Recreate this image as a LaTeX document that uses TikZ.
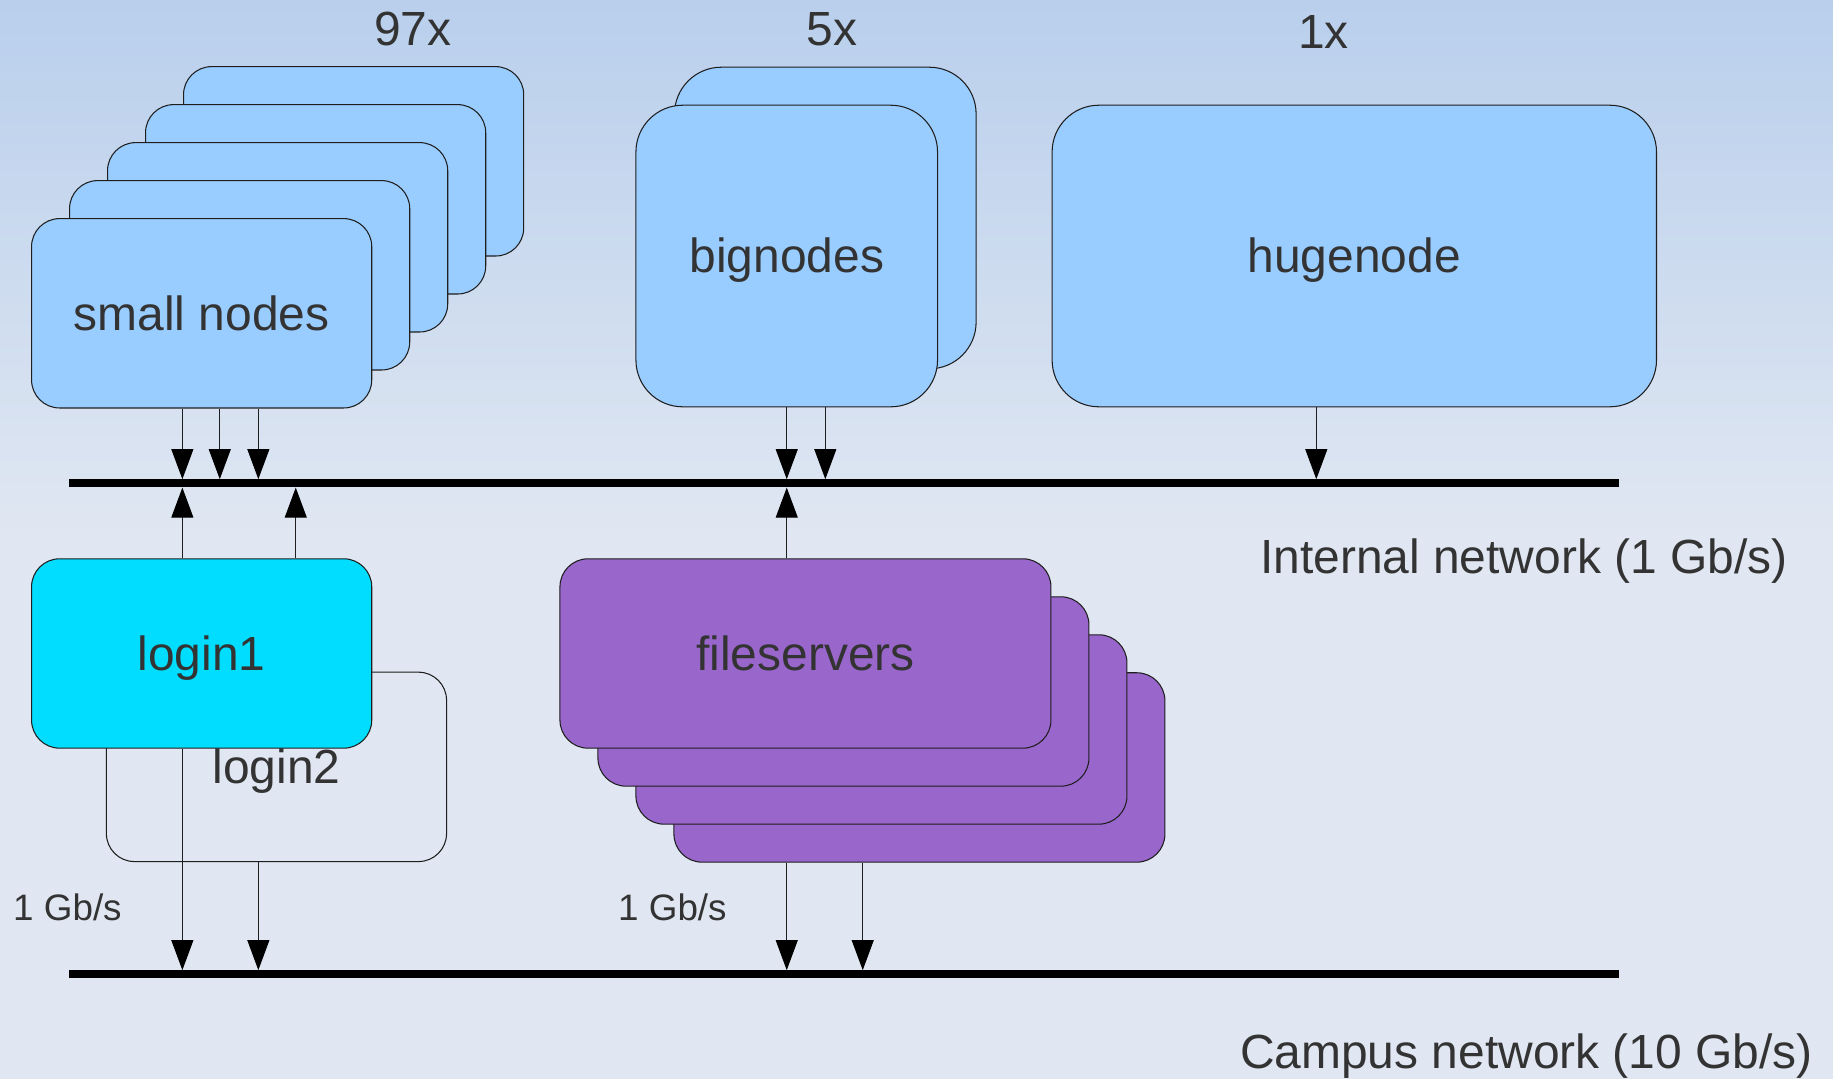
\documentclass[tikz,border=0pt]{standalone}
\usepackage{fontspec}
\setmainfont{Liberation Sans}
\usetikzlibrary{arrows.meta}

\definecolor{bgtop}{RGB}{185,207,236}
\definecolor{bgbot}{RGB}{224,231,242}
\definecolor{nodeblue}{RGB}{153,204,255}
\definecolor{logincyan}{RGB}{0,221,255}
\definecolor{fspurple}{RGB}{153,102,204}
\definecolor{txt}{RGB}{51,51,51}
\definecolor{edgegray}{RGB}{30,30,30}

\begin{document}
\begin{tikzpicture}[x=1pt,y=-1pt,
  box/.style={draw=edgegray, line width=0.9pt, rounded corners=#1, inner sep=0pt,
    text=txt, font=\fontsize{41}{49}\selectfont, text height=37pt, text depth=8.2pt},
  box/.default=24pt,
  small/.style={box, minimum width=291pt, minimum height=162pt},
  fsbox/.style={box, fill=fspurple, minimum width=420pt, minimum height=162pt},
  bus/.style={fill=black, draw=none, inner sep=0pt, minimum width=1326pt, minimum height=6.8pt},
  lbl/.style={text=txt, inner sep=0pt, anchor=base, font=\fontsize{41}{49}\selectfont},
  slbl/.style={text=txt, inner sep=0pt, anchor=base, font=\fontsize{31.5}{38}\selectfont},
  link/.style={draw=edgegray, line width=0.9pt, -{Triangle[length=25.7pt,width=18.8pt,black]}}
]
\useasboundingbox (0,0) rectangle (1568,923);

% background
\fill[bgbot] (0,0) rectangle (1568,923);
\shade[top color=bgtop, bottom color=bgbot] (0,0) rectangle (1568,460);

% counts
\node[lbl] (n97) at (353,38.5) {97x};
\node[lbl] (n5) at (711.8,38.5) {5x};
\node[lbl] (n1) at (1132,41.3) {1x};

% small nodes stack
\foreach \k in {4,3,2,1}
  \node[small, fill=nodeblue] (sn\k) at (172.5+32.5*\k, 268-32.5*\k) {};
\node[small, fill=nodeblue] (sn) at (172.5,268) {small nodes};

% bignodes stack
\node[box=40pt, fill=nodeblue, minimum width=258pt, minimum height=258pt] (bnback) at (706,186.5) {};
\node[box=40pt, fill=nodeblue, minimum width=258pt, minimum height=258pt] (bn) at (673,219) {bignodes};

% hugenode
\node[box=40pt, fill=nodeblue, minimum width=517pt, minimum height=258pt] (hn) at (1158.5,219) {hugenode};

% networks
\node[bus] (ibus) at (722,413.5) {};
\node[bus] (cbus) at (722,833.5) {};
\node[lbl] (ilbl) at (1303.5,490.5) {Internal network (1 Gb/s)};
\node[lbl] (clbl) at (1305.8,914) {Campus network (10 Gb/s)};

% login nodes
\node[small] (l2) at (236.5,656) {login2};
\node[small, fill=logincyan] (l1) at (172.5,559) {login1};

% fileservers stack
\foreach \k in {3,2,1}
  \node[fsbox] (fs\k) at (689+32.5*\k, 559+32.5*\k) {};
\node[fsbox] (fs) at (689,559) {fileservers};

% link speed labels
\node[slbl] (g1) at (57.7,787) {1 Gb/s};
\node[slbl] (g2) at (575.2,787) {1 Gb/s};

% compute nodes to internal network
\draw[link] (sn.south -| 156,0) -- (ibus.north -| 156,0);
\draw[link] (sn.south -| 188,0) -- (ibus.north -| 188,0);
\draw[link] (sn.south -| 221,0) -- (ibus.north -| 221,0);
\draw[link] (bn.south -| 673,0) -- (ibus.north -| 673,0);
\draw[link] (bn.south -| 706,0) -- (ibus.north -| 706,0);
\draw[link] (hn.south -| 1126,0) -- (ibus.north -| 1126,0);

% login and fileservers to internal network
\draw[link] (l1.north -| 156,0) -- (ibus.south -| 156,0);
\draw[link] (l1.north -| 253,0) -- (ibus.south -| 253,0);
\draw[link] (fs.north -| 673,0) -- (ibus.south -| 673,0);

% campus network links
\draw[link] (l1.south -| 156,0) -- (cbus.north -| 156,0);
\draw[link] (l2.south -| 221,0) -- (cbus.north -| 221,0);
\draw[link] (fs3.south -| 673,0) -- (cbus.north -| 673,0);
\draw[link] (fs3.south -| 738,0) -- (cbus.north -| 738,0);
\end{tikzpicture}
\end{document}
